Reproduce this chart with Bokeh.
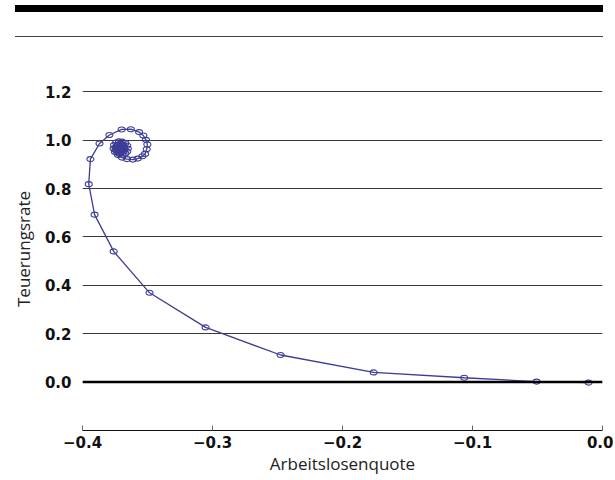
from bokeh.plotting import figure
from bokeh.models import FixedTicker, Span, Div, Range1d
from bokeh.layouts import column
from bokeh.embed import file_html
from bokeh.resources import INLINE

# Impulse response: unemployment (x) vs. inflation (y)
arbeitslosenquote = [
    -0.0107, -0.0507, -0.1064, -0.1760, -0.2476, -0.3053, -0.3484, -0.3760,
    -0.3907, -0.3952, -0.3939, -0.3869, -0.3793, -0.3699, -0.3628, -0.3565,
    -0.3532, -0.3512, -0.3501, -0.3506, -0.3519, -0.3539,
    -0.3575, -0.3613, -0.3658, -0.3696, -0.3727, -0.3750, -0.3761, -0.3757,
    -0.3742, -0.3719, -0.3693, -0.3670, -0.3655, -0.3651, -0.3655, -0.3670,
    -0.3693, -0.3715, -0.3734, -0.3746, -0.3746, -0.3734, -0.3715, -0.3696,
    -0.3681, -0.3677, -0.3685, -0.3700, -0.3715, -0.3723, -0.3723, -0.3715,
    -0.3704, -0.3696, -0.3700, -0.3708, -0.3712,
]
teuerungsrate = [
    -0.002, 0.002, 0.018, 0.040, 0.112, 0.226, 0.369, 0.540,
    0.692, 0.818, 0.9215, 0.986, 1.021, 1.044, 1.045, 1.033,
    1.019, 1.001, 0.982, 0.962, 0.943, 0.933,
    0.9236, 0.9194, 0.9215, 0.9277, 0.9380, 0.9504, 0.9649, 0.9793,
    0.9897, 0.9946, 0.9938, 0.9876, 0.9773, 0.9649, 0.9525, 0.9442,
    0.9401, 0.9422, 0.9484, 0.9587, 0.9690, 0.9773, 0.9814, 0.9793,
    0.9731, 0.9628, 0.9545, 0.9525, 0.9545, 0.9607, 0.9669, 0.9711,
    0.9711, 0.9669, 0.9607, 0.9595, 0.9628,
]

x_ticks = [-0.4, -0.3, -0.2, -0.1, 0.0]
x_tick_labels = ["\u22120.4", "\u22120.3", "\u22120.2", "\u22120.1", "0.0"]
y_ticks = [0.0, 0.2, 0.4, 0.6, 0.8, 1.0, 1.2]
y_tick_labels = ["0.0", "0.2", "0.4", "0.6", "0.8", "1.0", "1.2"]

TICK_FONT = "DejaVu Sans"
LABEL_FONT = "Open Sans"
LINE_COLOR = "#3d3d96"

p = figure(
    frame_width=520, frame_height=363,
    x_range=Range1d(-0.4, 0.0), y_range=Range1d(-0.2, 1.3),
    output_backend="svg", toolbar_location=None,
    min_border_left=68, min_border_right=11, min_border_top=30, min_border_bottom=46,
    background_fill_color="white", border_fill_color="white",
)
p.outline_line_color = None

# grid
p.xgrid.visible = False
p.ygrid.ticker = FixedTicker(ticks=y_ticks)
p.ygrid.grid_line_color = "#3a3a3a"
p.ygrid.grid_line_width = 1
p.add_layout(Span(location=0, dimension="width", line_color="black", line_width=2.5))

# x axis
xa = p.xaxis[0]
xa.ticker = FixedTicker(ticks=x_ticks)
xa.major_label_overrides = {t: l for t, l in zip(x_ticks, x_tick_labels)}
xa.axis_label = "Arbeitslosenquote"
xa.axis_label_text_font = LABEL_FONT
xa.axis_label_text_font_style = "normal"
xa.axis_label_text_font_size = "17px"
xa.axis_label_text_color = "#222222"
xa.axis_label_standoff = 1
xa.major_label_text_font = TICK_FONT
xa.major_label_text_font_style = "bold"
xa.major_label_text_font_size = "15px"
xa.major_label_text_color = "#111111"
xa.major_label_standoff = 5
xa.axis_line_color = "#111111"
xa.axis_line_width = 1
xa.major_tick_in = 5
xa.major_tick_out = 0
xa.major_tick_line_color = "#666666"
xa.minor_tick_line_color = None

# y axis
ya = p.yaxis[0]
ya.ticker = FixedTicker(ticks=y_ticks)
ya.major_label_overrides = {t: l for t, l in zip(y_ticks, y_tick_labels)}
ya.axis_label = "Teuerungsrate"
ya.axis_label_text_font = LABEL_FONT
ya.axis_label_text_font_style = "normal"
ya.axis_label_text_font_size = "17px"
ya.axis_label_text_color = "#222222"
ya.axis_label_standoff = 7
ya.major_label_text_font = TICK_FONT
ya.major_label_text_font_style = "bold"
ya.major_label_text_font_size = "15px"
ya.major_label_text_color = "#111111"
ya.major_label_standoff = 5
ya.axis_line_color = None
ya.major_tick_line_color = None
ya.minor_tick_line_color = None

# data
p.line(arbeitslosenquote, teuerungsrate, line_color=LINE_COLOR, line_width=1.3)
p.ellipse(arbeitslosenquote, teuerungsrate, width=7, height=5,
          width_units="screen", height_units="screen",
          line_color=LINE_COLOR, line_width=1.1, fill_color=None)

# top decoration (thick bar + thin rule)
deco = Div(
    text='<div style="margin-left:7px;width:588px;height:7px;background:#000"></div>'
         '<div style="height:24px"></div>'
         '<div style="margin-left:7px;width:588px;height:1px;background:#444"></div>',
    width=599, height=32, margin=(0, 0, 0, 0),
)
p.margin = (0, 0, 0, 0)

layout = column(deco, p, spacing=0, margin=(5, 0, 0, 8))

with open("out.html", "w") as f:
    f.write(file_html(layout, INLINE))
